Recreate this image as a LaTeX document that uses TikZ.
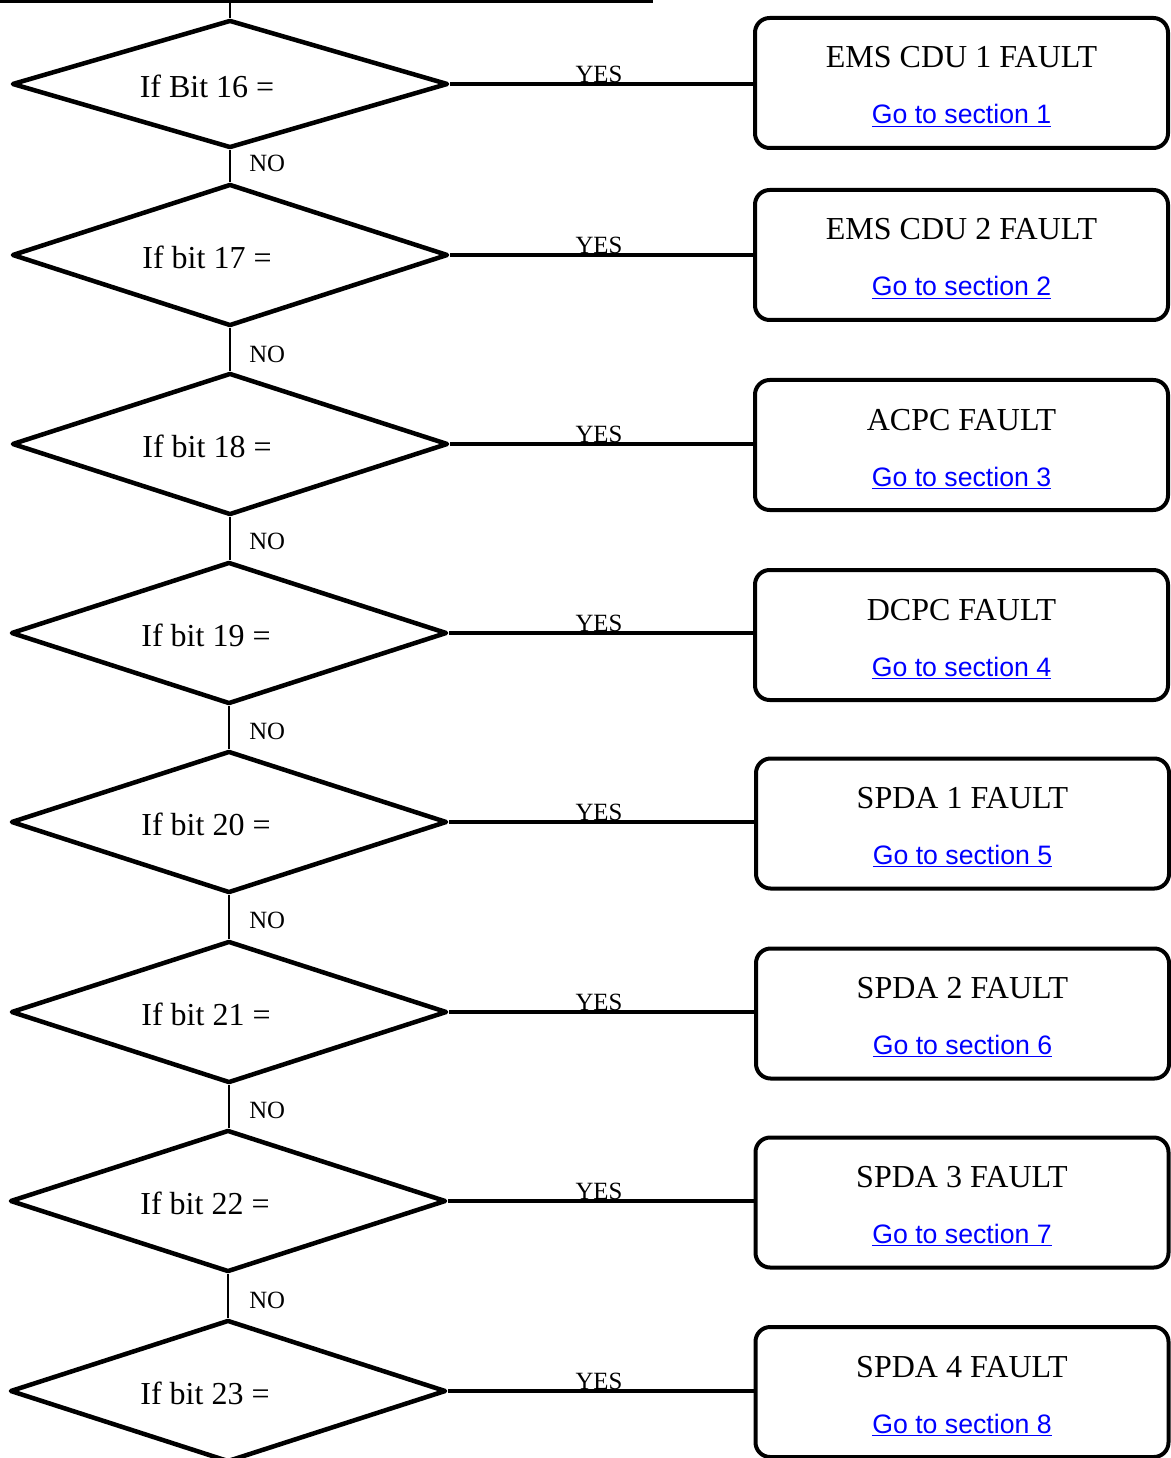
\documentclass[tikz,border=0pt]{standalone}
\usepackage{fontspec}
\setmainfont{Liberation Serif}
\newfontfamily\linkfont{Liberation Sans}
\usetikzlibrary{shapes.geometric,calc}
\definecolor{linkblue}{RGB}{0,0,255}
\begin{document}
\begin{tikzpicture}[x=0.75pt,y=-0.75pt,
  dia/.style={diamond, draw, line width=3.4pt, line join=round, minimum width=327pt, inner sep=0pt},
  dtext/.style={inner sep=0pt, font=\fontsize{24}{28}\selectfont},
  fbox/.style={draw, rounded corners=11pt, line width=3pt, minimum width=309.75pt, minimum height=97.5pt, inner sep=0pt},
  ttl/.style={inner sep=0pt, font=\fontsize{24}{28}\selectfont},
  lnk/.style={inner sep=0pt, text=linkblue, font=\linkfont\fontsize{20}{24}\selectfont},
  yn/.style={inner sep=0pt, font=\fontsize{18.6}{22}\selectfont},
  yesline/.style={line width=2.3pt},
  vline/.style={line width=1.5pt},
  topline/.style={line width=2.25pt}
]
\useasboundingbox (0,0) rectangle (1170,1458);

% decision diamonds
\foreach \i/\x/\y/\h/\txt in {1/230/84/96/If Bit 16 =, 2/230/255/106.5/If bit 17 =, 3/230/444/106.5/If bit 18 =, 4/229/633/106.5/If bit 19 =, 5/229/822/106.5/If bit 20 =, 6/229/1012/106.5/If bit 21 =, 7/228/1201/106.5/If bit 22 =, 8/228/1391/106.5/If bit 23 =}
{
  \node[dia, minimum height=\h pt] (d\i) at (\x,\y) {};
  \node[dtext] (q\i) at ($(d\i.center)+(-23,2)$) {\txt};
}

% fault boxes
\foreach \i/\x/\y/\ttl in {1/961.5/83/EMS CDU 1 FAULT, 2/961.5/255/EMS CDU 2 FAULT, 3/961.5/445/ACPC FAULT, 4/961.5/635/DCPC FAULT, 5/962.5/823.5/SPDA 1 FAULT, 6/962.5/1013.5/SPDA 2 FAULT, 7/962/1202.5/SPDA 3 FAULT, 8/962/1392/SPDA 4 FAULT}
{
  \node[fbox] (b\i) at (\x,\y) {};
  \node[ttl, anchor=base] (t\i) at ($(b\i.center)+(0,-15)$) {\ttl};
  \node[lnk, anchor=base] (l\i) at ($(b\i.center)+(0,41)$) {\underline{Go to section \i}};
}

% top feed line
\coordinate (tl) at (0,1.5);
\coordinate (tr) at (653,1.5);
\draw[topline] (tl) -- (tr);
\draw[vline] (d1.north |- tl) -- (d1.north);

% YES connectors
\coordinate (yx) at (599,0);
\foreach \i in {1,...,8}
{
  \draw[yesline] (d\i.east) -- (d\i.east -| b\i.west);
  \node[yn, anchor=base, yshift=1pt] (y\i) at (yx |- d\i.east) {YES};
}

% NO connectors
\foreach \i/\j/\ny in {1/2/163, 2/3/354, 3/4/541, 4/5/731, 5/6/920, 6/7/1110, 7/8/1300}
{
  \draw[vline] (d\i.south) -- (d\i.south |- d\j.north);
  \node[yn, anchor=west] (n\i) at (249,\ny) {NO};
}
\end{tikzpicture}
\end{document}
